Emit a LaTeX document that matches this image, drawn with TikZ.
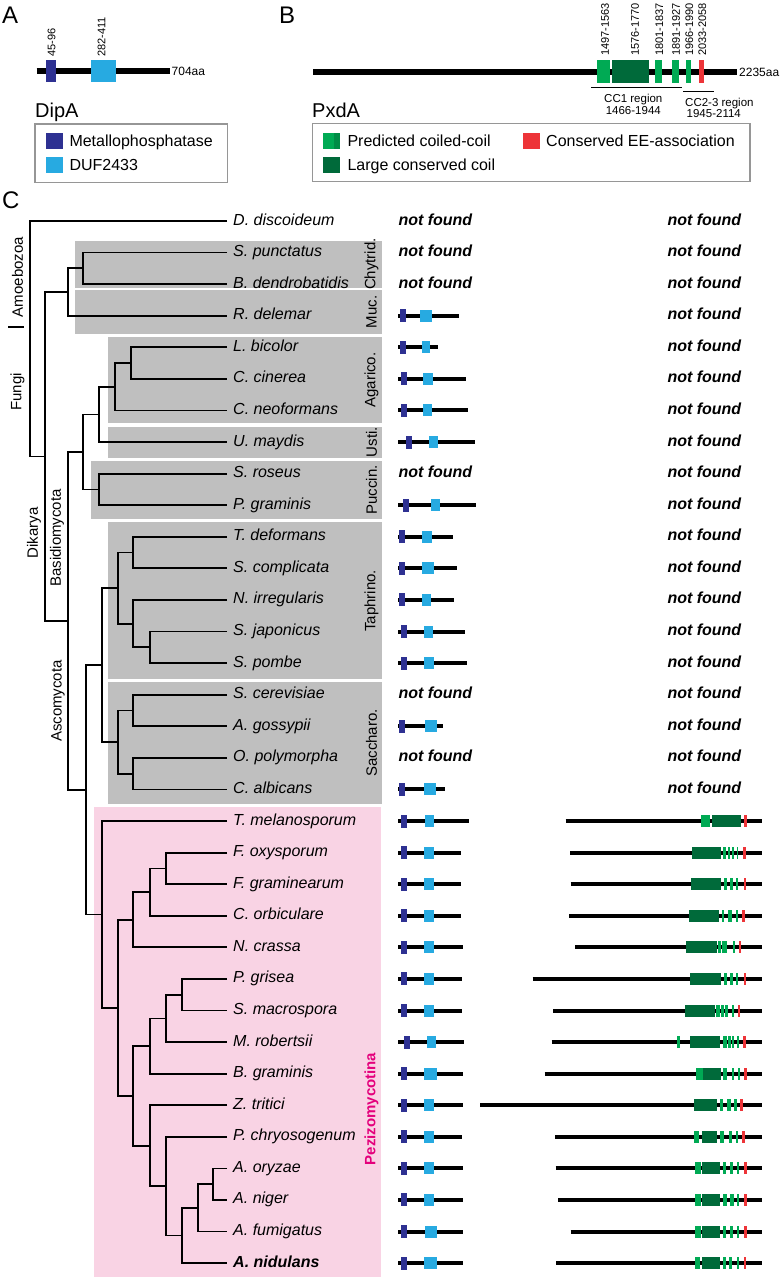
\documentclass[tikz,border=0pt]{standalone}
\usepackage{fontspec}
\setmainfont{Liberation Sans}
\usetikzlibrary{calc}

\definecolor{dipdark}{RGB}{46,49,146}
\definecolor{diplight}{RGB}{39,170,225}
\definecolor{pxL}{RGB}{0,170,84}
\definecolor{pxM}{RGB}{0,140,70}
\definecolor{pxD}{RGB}{0,106,58}
\definecolor{pxR}{RGB}{237,52,56}
\definecolor{cladegrey}{RGB}{191,191,191}
\definecolor{pezpink}{RGB}{249,211,228}
\definecolor{pezmag}{RGB}{228,0,124}
\definecolor{legframe}{RGB}{150,150,150}

% one bracket of the tree: name, x of the split, upper child, lower child
\newcommand{\clade}[4]{%
  \coordinate (#1m) at ($(#3)!0.5!(#4)$);
  \coordinate (#1) at (#2,0 |- #1m);
  \draw[branch] (#3) -| (#1) |- (#4);
}

\begin{document}
\begin{tikzpicture}[x=1pt, y=-1pt,
    branch/.style={line width=1.8pt},
    prot/.style={line width=4pt},
    species/.style={anchor=west, inner xsep=6pt, inner ysep=0pt, text height=11pt, text depth=3pt, font=\fontsize{16}{18}\selectfont\itshape},
    nf/.style={anchor=west, inner sep=0pt, text height=11pt, text depth=3pt, font=\fontsize{16}{18}\selectfont\bfseries\itshape},
    cladelabel/.style={rotate=90, inner sep=0pt, font=\fontsize{15}{17}\selectfont},
    panel/.style={anchor=base west, inner sep=0pt, font=\fontsize{24}{26}\selectfont},
    title/.style={anchor=base west, inner sep=0pt, font=\fontsize{20}{22}\selectfont},
    small/.style={inner sep=0pt, font=\fontsize{11}{13}\selectfont},
    legtext/.style={anchor=base west, inner sep=0pt, font=\fontsize{16}{18}\selectfont}]

	\useasboundingbox (0,0) rectangle (783,1280);

	\begin{scope}
		\node[panel] (labA) at (2,23) {A};
		\draw[line width=6pt] (36.7,70.5) -- (170,70.5);
		\fill[dipdark] (46.2,59.5) rectangle (55.9,81.5);
		\fill[diplight] (91.1,59.5) rectangle (115.5,81.5);
		\node[small, rotate=90, anchor=west] at (51.7,57) {45-96};
		\node[small, rotate=90, anchor=west] at (101.7,57) {282-411};
		\node[small, anchor=west, font=\fontsize{12}{14}\selectfont] at (171.5,71) {704aa};

		\node[title] (dipa) at (35,117) {DipA};
		\draw[legframe, line width=1.5pt] (35,124) rectangle (227.7,182.7);
		\fill[dipdark] (46,132.7) rectangle (62.7,149.3);
		\node[legtext] at (69.3,146.7) {Metallophosphatase};
		\fill[diplight] (46,156.7) rectangle (62.7,173.3);
		\node[legtext] at (69.3,170.7) {DUF2433};
	\end{scope}

	\begin{scope}
		\node[panel] (labB) at (279,23) {B};
		\draw[line width=6pt] (313.3,71.7) -- (737.3,71.7);
		\foreach \xa/\xb/\col/\lx in {1497/1563/L/605, 1576/1770/D/635, 1801/1837/L/659.3, 1891/1927/L/676, 1966/1990/L/689.3, 2033/2058/R/702.3}{
			\fill[fill=px\col] ({313.3+0.1897*\xa},60) rectangle ({313.3+0.1897*\xb},83.3);
			\node[small, rotate=90, anchor=west] at (\lx,56) {\xa-\xb};
		}
		\node[small, anchor=west, font=\fontsize{12}{14}\selectfont] at (739,72) {2235aa};

		\draw[line width=1pt] (591.4,87.7) -- (682,87.7);
		\draw[line width=1pt] (683.3,91.7) -- (714.2,91.7);
		\node[small, anchor=base, font=\fontsize{11.5}{13}\selectfont] at (633.3,102.7) {CC1 region};
		\node[small, anchor=base, font=\fontsize{11.5}{13}\selectfont] at (633.3,114) {1466-1944};
		\node[small, anchor=base west, font=\fontsize{11.5}{13}\selectfont] at (685,106) {CC2-3 region};
		\node[small, anchor=base west, font=\fontsize{11.5}{13}\selectfont] at (686.5,117.5) {1945-2114};

		\node[title] (pxda) at (312,117) {PxdA};
		\draw[legframe, line width=1.5pt] (312.3,123.3) rectangle (750,181.7);
		\fill[pxL] (322.7,132.7) rectangle (333.5,149.3);
		\fill[pxM] (333.5,132.7) rectangle (340,149.3);
		\node[legtext] at (347.3,146.7) {Predicted coiled-coil};
		\fill[pxR] (522.7,132.7) rectangle (540,149.3);
		\node[legtext] at (546,146.7) {Conserved EE-association};
		\fill[pxD] (322.7,156.7) rectangle (340,173.3);
		\node[legtext] at (347.3,170.5) {Large conserved coil};
	\end{scope}

	\begin{scope}
		\node[panel] (labC) at (2,208) {C};

		\fill[cladegrey] (75,240.7) rectangle (381.7,287.7);
		\fill[cladegrey] (75,290.3) rectangle (381.7,334);
		\fill[cladegrey] (108,336.7) rectangle (381.7,423.3);
		\fill[cladegrey] (108,426.7) rectangle (381.7,457.7);
		\fill[cladegrey] (91,461) rectangle (381.7,519.3);
		\fill[cladegrey] (108,522.3) rectangle (381.7,679);
		\fill[cladegrey] (108,681.7) rectangle (381.7,804.3);
		\fill[pezpink] (94.3,807.3) rectangle (381,1277.3);

		\foreach \sp [count=\i from 0] in {D. discoideum, S. punctatus, B. dendrobatidis, R. delemar, L. bicolor, C. cinerea, C. neoformans, U. maydis, S. roseus, P. graminis, T. deformans, S. complicata, N. irregularis, S. japonicus, S. pombe, S. cerevisiae, A. gossypii, O. polymorpha, C. albicans, T. melanosporum, F. oxysporum, F. graminearum, C. orbiculare, N. crassa, P. grisea, S. macrospora, M. robertsii, B. graminis, Z. tritici, P. chryosogenum, A. oryzae, A. niger, A. fumigatus, \textbf{A. nidulans}}
			\node[species] (sp\i) at (227,{221+31.58*\i}) {\sp};

		\clade{chy}{83}{sp1.west}{sp2.west}
		\clade{muc}{68}{chy}{sp3.west}
		\clade{lbcc}{131}{sp4.west}{sp5.west}
		\clade{agar}{115}{lbcc}{sp6.west}
		\clade{agus}{99}{agar}{sp7.west}
		\clade{pucc}{99}{sp8.west}{sp9.west}
		\clade{basi}{83}{agus}{pucc}
		\clade{tdsc}{133}{sp10.west}{sp11.west}
		\clade{sjsp}{150}{sp13.west}{sp14.west}
		\clade{nisj}{133}{sp12.west}{sjsp}
		\clade{taph}{118}{tdsc}{nisj}
		\clade{scag}{133}{sp15.west}{sp16.west}
		\clade{opca}{133}{sp17.west}{sp18.west}
		\clade{sacc}{118}{scag}{opca}
		\clade{tasa}{102}{taph}{sacc}
		\clade{ff}{166}{sp20.west}{sp21.west}
		\clade{ffc}{150}{ff}{sp22.west}
		\clade{sora}{133}{ffc}{sp23.west}
		\clade{ps}{182}{sp24.west}{sp25.west}
		\clade{psm}{166}{ps}{sp26.west}
		\clade{sorb}{150}{psm}{sp27.west}
		\clade{aoan}{213}{sp30.west}{sp31.west}
		\clade{aspb}{198}{aoan}{sp32.west}
		\clade{aspa}{182}{aspb}{sp33.west}
		\clade{pen}{166}{sp29.west}{aspa}
		\clade{ztr}{150}{sp28.west}{pen}
		\clade{pezc}{133}{sorb}{ztr}
		\clade{pezb}{118}{sora}{pezc}
		\clade{pezi}{102}{sp19.west}{pezb}
		\clade{asco}{86}{tasa}{pezi}
		\clade{dika}{68}{basi}{asco}
		\clade{fung}{45}{muc}{dika}
		\clade{root}{30}{sp0.west}{fung}

		\node[cladelabel] at (371.5,264) {Chytrid.};
		\node[cladelabel] at (371.5,312) {Muc.};
		\node[cladelabel] at (371.5,380) {Agarico.};
		\node[cladelabel] at (371.5,442) {Usti.};
		\node[cladelabel] at (371.5,490) {Puccin.};
		\node[cladelabel] at (371.5,600.7) {Taphrino.};
		\node[cladelabel] at (371.5,743) {Saccharo.};
		\node[cladelabel, text=pezmag, font=\fontsize{15}{17}\selectfont\bfseries] at (371.5,1109) {Pezizomycotina};

		\node[cladelabel] (amoe) at (17.5,277) {Amoebozoa};
		\node[cladelabel] (fungi) at (17.5,392) {Fungi};
		\node[cladelabel] at (34,533) {Dikarya};
		\node[cladelabel] at (57,538) {Basidiomycota};
		\node[cladelabel] at (58,701) {Ascomycota};
		\fill (8,326.2) rectangle (24,327.8);

		% DipA per species
		\foreach \r/\e/\d/\la/\lb in {3/459/399.5/419.5/432, 4/438/399.5/421.5/430, 5/466/400.7/422.7/432.7, 6/468/400.7/423.3/432.3, 7/475/405.7/429/438.3, 9/476/403.3/430.7/440, 10/453/399.3/422.3/431.7, 11/457/399.3/422.3/434, 12/454/399.3/422.3/431, 13/465/400.7/424.3/433.3, 14/467/400.7/424.3/434, 16/443/398.5/425/436.7, 18/445/398.5/424.3/436, 19/469/400.7/425/434.3, 20/461/400.7/424.3/434, 21/461/400.7/424.3/434, 22/461/400.7/424.3/434, 23/463/400.7/424.3/434.3, 24/462/400.7/424.3/434, 25/462/400.7/424.3/434.3, 26/464/404/426.7/436, 27/463/400.7/424.3/436.7, 28/463/400.7/424.3/434, 29/462/400.7/424.3/434, 30/463/400.7/424.3/434, 31/463/400.7/424.3/434, 32/463/400.7/425/436.7, 33/463/400.7/424.3/436.7}{
			\pgfmathsetmacro\ry{221+31.58*\r}
			\draw[prot] (398.3,\ry) -- (\e,\ry);
			\fill[dipdark] (\d,\ry-6.5) rectangle (\d+6,\ry+6.5);
			\fill[diplight] (\la,\ry-6) rectangle (\lb,\ry+6);
		}
		\foreach \r in {0,1,2,8,15,17}
			\node[nf] (nfa\r) at (398.3,{221+31.58*\r}) {not found};

		% PxdA per species
		\foreach \r in {0,...,18}
			\node[nf] (nfb\r) at (667.3,{221+31.58*\r}) {not found};
		\foreach \r/\st/\segs in {
			19/565.7/{L/701/710,D/712.3/740.7,R/744.3/746.7},
			20/570.3/{D/691.7/721,L/723.3/726,L/727.7/730,L/731.7/734.3,L/736.7/738.3,R/743.3/746},
			21/570.7/{D/691/721,L/724/726.7,L/730/732.7,L/736/738.3,R/744/746},
			22/569.3/{D/689.3/719.3,L/721.7/724.3,L/728.3/731.7,L/736/738.3,R/742.3/745},
			23/575/{D/686/716.7,L/717.7/721,L/722/724.5,L/725/727.3,L/733.3/735,R/739/741},
			24/532.7/{D/690/721,L/724/726.7,L/730/732.7,L/736/738.3,R/744/746},
			25/553.3/{D/685/715,L/716/719.5,L/720.5/724,L/725/728.3,L/731.7/734,R/737.7/740},
			26/551.7/{L/677.3/680,D/690/720,L/723.3/726.5,L/727.5/730.5,L/731.5/734,L/737.3/739.3,R/743.3/745.7},
			27/544.7/{L/696/702.7,D/702.7/720.7,L/723.3/726.7,L/731.7/734,L/738.3/740,R/744/746.7},
			28/480/{D/694/717.3,L/720/723.3,L/727.3/730.7,L/734/736.7,R/740/742.7},
			29/555/{L/694/699.3,D/701.7/717.3,L/720/724,L/729.3/731.7,L/736/737.7,R/742.3/745},
			30/555.7/{L/695/700.7,D/702.3/720,L/722.7/725.7,L/730/733.3,L/737.3/739.3,R/744/746.7},
			31/558.3/{L/695/700.7,D/702.3/720,L/722.7/727.3,L/730/734,L/737.3/739.3,R/744/746.7},
			32/570.7/{L/695/700.7,D/702.3/720,L/722.7/725.7,L/730/733.3,L/737.3/739.3,R/744/746.7},
			33/556/{L/695/700,D/701.7/720,L/722.7/725.7,L/729.3/732.3,L/736.7/739,R/744/746}}{
			\pgfmathsetmacro\ry{221+31.58*\r}
			\draw[prot] (\st,\ry) -- (762.3,\ry);
			\foreach \col/\xa/\xb in \segs
				\fill[fill=px\col] (\xa,\ry-6) rectangle (\xb,\ry+6);
		}
	\end{scope}
\end{tikzpicture}
\end{document}
